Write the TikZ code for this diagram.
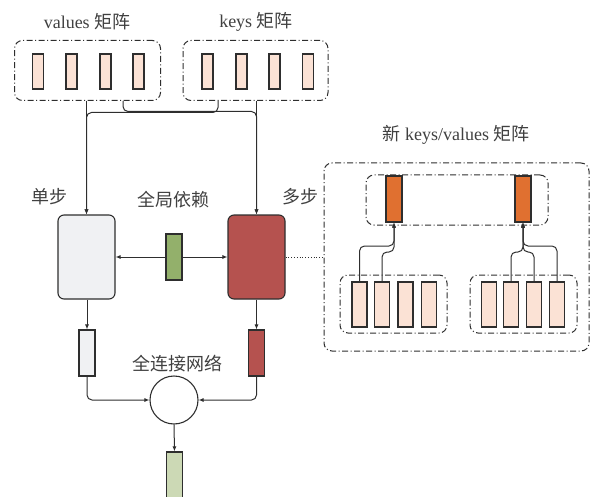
\documentclass[tikz,border=0pt]{standalone}
\usepackage{fontspec}
\setmainfont{Liberation Serif}
\newfontfamily\cjk{Noto Sans CJK SC}
\usetikzlibrary{arrows.meta}

\definecolor{linec}{HTML}{2E2E2E}
\definecolor{txtc}{HTML}{404040}
\definecolor{peach}{HTML}{FBE2D5}
\definecolor{greyfill}{HTML}{F0F1F3}
\definecolor{redfill}{HTML}{B5524F}
\definecolor{greenfill}{HTML}{93B06B}
\definecolor{lightgreen}{HTML}{CCD9B5}
\definecolor{orangefill}{HTML}{E07030}

\tikzset{
  cell/.style={draw=linec, fill=peach, line width=1.1pt, minimum width=11pt, minimum height=35pt, inner sep=0pt},
  bigcell/.style={cell, minimum width=15pt, minimum height=45pt},
  vec/.style={draw=linec, line width=1.1pt, minimum width=16pt, minimum height=46pt, inner sep=0pt},
  group/.style={draw=linec, dash pattern=on 6pt off 2.5pt on 1pt off 2.5pt, rounded corners=8pt, line width=1pt, inner sep=0pt},
  block/.style={draw=linec, line width=1.1pt, rounded corners=6pt, minimum width=57pt, minimum height=84pt, inner sep=0pt},
  lbl/.style={text=txtc, font=\fontsize{18}{18}\selectfont, inner sep=0pt},
  arr/.style={-{Latex[length=5pt,width=4pt]}, line width=1pt, draw=linec},
}

\begin{document}
\begin{tikzpicture}[x=1pt, y=-1pt]
\useasboundingbox (0,0) rectangle (591,497);

% input matrices
\node[group, minimum width=146pt, minimum height=60pt] (vals) at (87.5,70.5) {};
\node[group, minimum width=145pt, minimum height=60pt] (keys) at (255.5,70.5) {};
\foreach \x [count=\i] in {38,71.5,105.5,138.5}
  \node[cell] (v\i) at (\x,71.5) {};
\foreach \x [count=\i] in {207.5,241.5,274.5,308}
  \node[cell] (k\i) at (\x,71.5) {};
\node[lbl] (valslbl) at (87,22) {values {\cjk 矩阵}};
\node[lbl] (keyslbl) at (256,22) {keys {\cjk 矩阵}};

% single-step and multi-step blocks
\node[block, fill=greyfill] (single) at (86.5,257) {};
\node[block, fill=redfill] (multi) at (256.5,257) {};
\node[vec, fill=greenfill] (glob) at (174,257) {};
\node[lbl] (singlelbl) at (49,197) {\cjk 单步};
\node[lbl] (multilbl) at (300,197) {\cjk 多步};
\node[lbl] (globlbl) at (173,200) {\cjk 全局依赖};

% matrices feeding both blocks
\draw[arr] (vals.south -| single.north) -- (single.north);
\draw[arr] (keys.south -| multi.north) -- (multi.north);
\draw[arr, rounded corners=5pt] (vals.south -| 123,0) -- (123,111.5) -- (multi.north |- 0,111.5) -- (multi.north);
\draw[arr, rounded corners=5pt] (keys.south -| 218,0) -- (218,112.5) -- (single.north |- 0,112.5) -- (single.north);

% global dependency
\draw[arr] (glob.west) -- (single.east);
\draw[arr] (glob.east) -- (multi.west);

% new keys/values matrix
\node[group, minimum width=265pt, minimum height=188pt] (big) at (456.5,257) {};
\node[lbl] (biglbl) at (456,135) {{\cjk 新} keys/values {\cjk 矩阵}};
\draw[linec, dotted, line width=0.8pt] (multi.east) -- (big.west);

\node[group, minimum width=182pt, minimum height=50pt] (topg) at (457,200) {};
\node[vec, fill=orangefill] (o1) at (394,199) {};
\node[vec, fill=orangefill] (o2) at (523,199) {};

\node[group, minimum width=107pt, minimum height=58pt] (blg) at (393.5,304) {};
\node[group, minimum width=107pt, minimum height=58pt] (brg) at (523.5,304) {};
\foreach \x [count=\i] in {359.5,382,405.5,429}
  \node[bigcell] (b\i) at (\x,304.5) {};
\foreach \x [count=\i] in {489,511,534,557}
  \node[bigcell] (r\i) at (\x,304.5) {};

\draw[arr, rounded corners=5pt] (b1.north) -- (b1.north |- 0,246) -- (o1.south |- 0,246) -- (o1.south);
\draw[arr, rounded corners=5pt] (b2.north) -- (b2.north |- 0,252) -- (o1.south |- 0,252) -- (o1.south);
\draw[arr, rounded corners=5pt] (r2.north) -- (r2.north |- 0,252) -- (o2.south |- 0,252) -- (o2.south);
\draw[arr, rounded corners=5pt] (r3.north) -- (r3.north |- 0,252) -- (o2.south |- 0,252) -- (o2.south);
\draw[arr, rounded corners=5pt] (r4.north) -- (r4.north |- 0,246) -- (o2.south |- 0,246) -- (o2.south);

% outputs and fully connected layer
\node[vec, fill=greyfill] (sout) at (87,353) {};
\node[vec, fill=redfill] (mout) at (256.5,353) {};
\draw[arr] (single.south -| sout.north) -- (sout.north);
\draw[arr] (multi.south) -- (mout.north);
\node[circle, draw=linec, line width=1.1pt, minimum size=48pt, inner sep=0pt] (fc) at (174,400) {};
\node[lbl] (fclbl) at (177,364) {\cjk 全连接网络};
\draw[arr, rounded corners=5pt] (sout.south) |- (fc.west);
\draw[arr, rounded corners=5pt] (mout.south) |- (fc.east);
\node[vec, fill=lightgreen, minimum height=52pt] (res) at (174.5,478) {};
\draw[arr] (fc.south) -- (res.north);
\end{tikzpicture}
\end{document}
